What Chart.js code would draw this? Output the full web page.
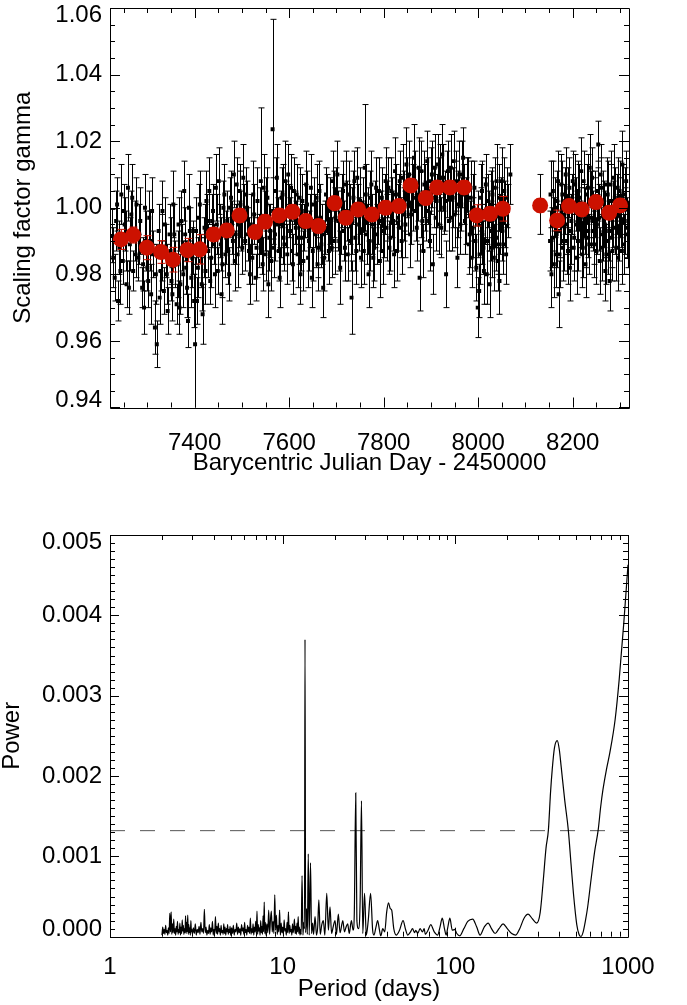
<!DOCTYPE html>
<html>
<head>
<meta charset="utf-8">
<script src="https://cdn.jsdelivr.net/npm/chart.js@4.4.1/dist/chart.umd.min.js"></script>
<style>
  body { margin: 0; background: #fff; width: 687px; height: 1005px; overflow: hidden; position: relative; }
  canvas { position: absolute; left: 0; }
  #gammaChart { top: 0; }
  #powerChart { top: 500px; }
</style>
</head>
<body>
<canvas id="gammaChart" width="687" height="500"></canvas>
<canvas id="powerChart" width="687" height="505"></canvas>
<script>
// individual measurements (BJD - 2450000, scaling factor, 1-sigma error)
const bjd = [
  7226, 7231, 7234, 7238, 7241, 7245, 7248, 7252, 7256, 7259,
  7263, 7266, 7270, 7273, 7277, 7281, 7285, 7289, 7293, 7297,
  7300, 7304, 7308, 7312, 7316, 7320, 7324, 7328, 7332, 7335,
  7339, 7343, 7347, 7351, 7355, 7359, 7362, 7366, 7370, 7374,
  7378, 7382, 7386, 7390, 7393, 7397, 7401, 7405, 7409, 7413,
  7417, 7421, 7425, 7429, 7433, 7437, 7441, 7445, 7449, 7453,
  7457, 7461, 7465, 7469, 7473, 7477, 7481, 7485, 7489, 7493,
  7497, 7501, 7505, 7509, 7513, 7517, 7522, 7526, 7529, 7533,
  7536, 7540, 7544, 7548, 7552, 7556, 7560, 7565, 7568, 7572,
  7576, 7580, 7584, 7588, 7592, 7596, 7600, 7604, 7608, 7612,
  7616, 7620, 7624, 7628, 7632, 7636, 7640, 7644, 7648, 7652,
  7656, 7660, 7664, 7668, 7672, 7676, 7680, 7684, 7688, 7692,
  7696, 7700, 7704, 7708, 7712, 7716, 7720, 7724, 7728, 7732,
  7736, 7740, 7744, 7748, 7752, 7756, 7760, 7764, 7768, 7772,
  7776, 7780, 7784, 7788, 7792, 7796, 7800, 7804, 7808, 7812,
  7816, 7820, 7824, 7828, 7832, 7836, 7840, 7844, 7848, 7852,
  7856, 7860, 7864, 7868, 7872, 7876, 7880, 7884, 7888, 7892,
  7896, 7900, 7904, 7908, 7912, 7916, 7920, 7924, 7928, 7932,
  7936, 7940, 7944, 7948, 7952, 7956, 7960, 7964, 7968, 7972,
  7976, 7980, 7984, 7988, 7992, 7996, 7999, 8002, 8005, 8008,
  8011, 8014, 8018, 8021, 8024, 8027, 8030, 8033, 8036, 8039,
  8042, 8045, 8048, 8051, 8055, 8059, 8063, 8068, 8131, 8152,
  8155, 8158, 8161, 8164, 8167, 8170, 8173, 8176, 8179, 8182,
  8185, 8188, 8191, 8194, 8197, 8200, 8203, 8206, 8209, 8212,
  8215, 8218, 8221, 8224, 8227, 8230, 8233, 8236, 8239, 8242,
  8245, 8248, 8251, 8254, 8257, 8260, 8263, 8266, 8269, 8272,
  8275, 8278, 8281, 8284, 8287, 8290, 8293, 8296, 8299, 8302,
  8305, 8308, 8311, 8314,
  7228, 7236, 7243, 7250, 7254, 7261, 7268, 7275, 7283, 7291,
  7295, 7302, 7306, 7310, 7318, 7326, 7330, 7337, 7341, 7349,
  7353, 7357, 7364, 7368, 7372, 7376, 7380, 7384, 7388, 7395,
  7399, 7403, 7407, 7411, 7415, 7419, 7423, 7427, 7431, 7435,
  7439, 7443, 7447, 7451, 7455, 7459, 7463, 7467, 7471, 7475,
  7479, 7483, 7487, 7491, 7495, 7499, 7503, 7507, 7511, 7515,
  7519, 7524, 7531, 7538, 7542, 7546, 7550, 7554, 7558, 7562,
  7566, 7570, 7574, 7578, 7582, 7586, 7590, 7594, 7598, 7602,
  7606, 7610, 7614, 7618, 7622, 7626, 7630, 7634, 7638, 7642,
  7646, 7650, 7654, 7658, 7662, 7666, 7670, 7674, 7678, 7682,
  7686, 7690, 7694, 7698, 7702, 7706, 7710, 7714, 7718, 7722,
  7726, 7730, 7734, 7738, 7742, 7746, 7750, 7754, 7758, 7762,
  7766, 7770, 7774, 7778, 7782, 7786, 7790, 7794, 7798, 7802,
  7806, 7810, 7814, 7818, 7822, 7826, 7830, 7834, 7838, 7842,
  7846, 7850, 7854, 7858, 7862, 7866, 7870, 7874, 7878, 7882,
  7886, 7890, 7894, 7898, 7902, 7906, 7910, 7914, 7918, 7922,
  7926, 7930, 7934, 7938, 7942, 7946, 7950, 7954, 7958, 7962,
  7966, 7970, 7974, 7978, 7982, 7986, 7990, 7994, 8000, 8003,
  8006, 8009, 8012, 8016, 8019, 8023, 8026, 8029, 8032, 8035,
  8038, 8041, 8044, 8047, 8050, 8053, 8057, 8061, 8153, 8157,
  8160, 8163, 8166, 8169, 8172, 8175, 8178, 8181, 8184, 8187,
  8190, 8193, 8196, 8199, 8202, 8205, 8208, 8211, 8214, 8217,
  8220, 8223, 8226, 8229, 8232, 8235, 8238, 8241, 8244, 8247,
  8250, 8253, 8256, 8259, 8262, 8265, 8268, 8271, 8274, 8277,
  8280, 8283, 8286, 8289, 8292, 8295, 8298, 8301, 8304, 8307,
  8310, 8313, 8316
];
const gamma = [
  0.9915, 0.9790, 0.9960, 0.9720, 0.9880, 1.0040, 0.9840, 0.9950, 0.9770, 1.0060,
  0.9890, 0.9980, 0.9810, 0.9930, 1.0010, 0.9850, 0.9960, 0.9760, 0.9700, 0.9900,
  0.9820, 0.9970, 0.9740, 0.9860, 0.9640, 0.9590, 0.9930, 0.9810, 0.9990, 0.9750,
  0.9870, 0.9690, 0.9920, 0.9780, 1.0010, 0.9830, 0.9710, 0.9950, 0.9770, 0.9880,
  1.0050, 0.9820, 0.9660, 0.9930, 0.9790, 0.9880, 0.9590, 0.9720, 0.9970, 0.9840,
  0.9680, 0.9940, 1.0020, 0.9870, 0.9780, 0.9960, 0.9890, 1.0060, 0.9810, 0.9930,
  0.9740, 1.0000, 0.9860, 0.9960, 0.9800, 1.0030, 0.9900, 0.9840, 1.0070, 0.9950,
  1.0010, 0.9880, 0.9980, 1.0040, 0.9920, 0.9800, 0.9850, 0.9980, 0.9790, 1.0020,
  0.9900, 1.0080, 0.9830, 0.9960, 1.0010, 0.9770, 0.9930, 1.0236, 0.9880, 1.0050,
  0.9950, 0.9790, 1.0030, 0.9910, 1.0080, 0.9860, 0.9990, 1.0060, 0.9830, 0.9970,
  1.0040, 0.9910, 0.9800, 1.0020, 0.9940, 1.0070, 0.9850, 0.9960, 0.9790, 1.0010,
  0.9920, 0.9830, 1.0050, 0.9890, 0.9760, 0.9940, 1.0010, 0.9870, 0.9950, 1.0080,
  0.9900, 1.0040, 0.9960, 0.9820, 1.0020, 0.9930, 1.0070, 0.9860, 0.9980, 0.9730,
  1.0030, 0.9910, 1.0090, 0.9950, 0.9850, 1.0010, 1.0120, 0.9920, 0.9800, 1.0030,
  0.9950, 0.9880, 1.0060, 0.9970, 0.9840, 1.0030, 0.9930, 1.0080, 0.9990, 0.9880,
  1.0050, 0.9960, 1.0110, 0.9870, 1.0020, 0.9940, 1.0090, 0.9980, 1.0130, 1.0010,
  0.9920, 1.0070, 1.0150, 0.9990, 1.0040, 0.9790, 1.0110, 0.9870, 1.0030, 1.0140,
  0.9960, 1.0080, 0.9830, 1.0120, 1.0020, 0.9950, 1.0090, 1.0160, 1.0000, 0.9800,
  1.0110, 1.0040, 0.9970, 1.0140, 1.0060, 0.9850, 1.0100, 1.0010, 1.0150, 0.9960,
  1.0070, 0.9890, 1.0030, 0.9940, 1.0060, 0.9820, 0.9700, 0.9750, 0.9960, 1.0050,
  0.9880, 0.9990, 0.9800, 1.0020, 0.9770, 0.9930, 1.0040, 0.9850, 0.9970, 1.0080,
  0.9890, 0.9780, 1.0010, 0.9930, 1.0050, 0.9860, 0.9990, 1.0100, 1.0010, 0.9900,
  0.9800, 1.0050, 0.9950, 0.9860, 1.0020, 0.9740, 0.9930, 1.0070, 0.9880, 0.9980,
  1.0100, 0.9900, 1.0030, 0.9820, 0.9960, 1.0080, 0.9910, 1.0010, 0.9850, 1.0050,
  0.9940, 1.0110, 0.9880, 0.9990, 0.9830, 1.0040, 0.9930, 1.0120, 0.9970, 0.9960,
  0.9890, 1.0030, 0.9950, 1.0190, 0.9840, 1.0060, 0.9920, 0.9980, 0.9810, 1.0070,
  0.9900, 0.9780, 1.0020, 0.9870, 1.0090, 0.9940, 1.0010, 0.9850, 1.0050, 0.9960,
  1.0130, 0.9890, 1.0020, 0.9940,
  0.9850, 1.0010, 0.9810, 0.9990, 0.9900, 0.9760, 1.0030, 0.9860, 0.9920, 0.9830,
  1.0000, 0.9780, 0.9900, 0.9990, 0.9800, 0.9730, 0.9880, 0.9950, 0.9800, 0.9870,
  0.9740, 0.9920, 0.9830, 0.9700, 0.9960, 0.9800, 0.9920, 0.9760, 1.0000, 0.9850,
  0.9720, 0.9930, 0.9820, 1.0010, 0.9770, 0.9880, 0.9810, 0.9960, 1.0050, 0.9850,
  0.9990, 0.9800, 0.9950, 1.0080, 0.9890, 0.9830, 1.0040, 0.9910, 0.9870, 1.0000,
  0.9940, 1.0100, 0.9920, 0.9860, 1.0050, 0.9960, 1.0090, 0.9900, 1.0000, 0.9870,
  0.9950, 1.0040, 0.9880, 0.9960, 0.9890, 1.0060, 0.9860, 1.0030, 0.9910, 0.9840,
  0.9990, 0.9920, 1.0090, 0.9870, 0.9950, 1.0040, 0.9890, 0.9980, 1.0100, 0.9930,
  0.9870, 1.0050, 0.9940, 0.9860, 1.0030, 0.9910, 0.9840, 0.9990, 1.0010, 0.9900,
  1.0060, 0.9870, 0.9960, 1.0030, 0.9880, 0.9970, 0.9920, 0.9850, 1.0040, 0.9930,
  0.9990, 0.9880, 1.0010, 0.9970, 1.0100, 0.9900, 0.9960, 1.0050, 0.9880, 0.9990,
  1.0040, 0.9900, 0.9960, 1.0080, 0.9870, 0.9980, 1.0020, 0.9930, 0.9870, 1.0040,
  0.9960, 0.9900, 1.0070, 0.9850, 0.9980, 0.9920, 1.0050, 0.9960, 0.9870, 1.0010,
  0.9940, 1.0060, 0.9910, 1.0000, 0.9860, 1.0040, 0.9970, 1.0080, 0.9900, 1.0020,
  0.9950, 1.0060, 1.0100, 0.9980, 1.0030, 1.0080, 0.9940, 1.0120, 1.0010, 0.9960,
  1.0070, 0.9990, 1.0050, 0.9900, 1.0100, 1.0030, 0.9970, 1.0130, 1.0050, 0.9940,
  1.0090, 1.0020, 1.0070, 0.9960, 1.0120, 1.0030, 0.9980, 1.0080, 1.0010, 0.9950,
  1.0100, 1.0040, 0.9990, 1.0060, 0.9920, 0.9850, 1.0000, 0.9900, 0.9950, 0.9860,
  1.0030, 0.9920, 0.9810, 1.0070, 0.9900, 0.9960, 1.0010, 0.9880, 0.9980, 1.0060,
  0.9910, 0.9840, 1.0030, 0.9950, 1.0080, 0.9890, 0.9980, 1.0030, 1.0040, 0.9910,
  0.9830, 1.0000, 0.9920, 1.0080, 0.9860, 0.9980, 1.0040, 0.9900, 1.0020, 0.9950,
  0.9870, 1.0060, 0.9930, 1.0010, 0.9880, 1.0070, 0.9950, 0.9900, 1.0030, 0.9970,
  0.9860, 1.0080, 0.9960, 0.9910, 1.0060, 0.9890, 1.0010, 1.0090, 0.9930, 1.0000,
  0.9870, 1.0050, 0.9970, 1.0100, 0.9880, 1.0020, 0.9950, 0.9860, 1.0040, 0.9930,
  1.0070, 0.9910, 0.9980, 1.0030, 0.9880, 1.0060, 0.9940, 1.0000, 0.9870, 1.0040,
  0.9960, 1.0080, 0.9920
];
const gammaErr = [
  0.008, 0.007, 0.009, 0.006, 0.008, 0.009, 0.007, 0.008, 0.007, 0.010,
  0.008, 0.007, 0.006, 0.009, 0.008, 0.007, 0.010, 0.006, 0.008, 0.009,
  0.007, 0.008, 0.009, 0.007, 0.008, 0.007, 0.008, 0.006, 0.009, 0.007,
  0.008, 0.007, 0.009, 0.006, 0.010, 0.007, 0.006, 0.008, 0.009, 0.007,
  0.009, 0.008, 0.008, 0.007, 0.009, 0.008, 0.026, 0.007, 0.010, 0.008,
  0.009, 0.007, 0.009, 0.008, 0.007, 0.008, 0.006, 0.010, 0.007, 0.008,
  0.009, 0.008, 0.007, 0.009, 0.008, 0.008, 0.007, 0.009, 0.008, 0.007,
  0.010, 0.008, 0.009, 0.008, 0.008, 0.009, 0.008, 0.009, 0.007, 0.010,
  0.008, 0.022, 0.008, 0.009, 0.008, 0.010, 0.008, 0.033, 0.009, 0.010,
  0.008, 0.009, 0.009, 0.008, 0.012, 0.009, 0.008, 0.010, 0.009, 0.008,
  0.009, 0.008, 0.009, 0.008, 0.007, 0.010, 0.009, 0.008, 0.009, 0.008,
  0.010, 0.008, 0.009, 0.007, 0.009, 0.008, 0.009, 0.010, 0.008, 0.009,
  0.010, 0.008, 0.009, 0.011, 0.008, 0.009, 0.010, 0.008, 0.009, 0.011,
  0.008, 0.010, 0.009, 0.008, 0.009, 0.008, 0.019, 0.009, 0.010, 0.008,
  0.009, 0.010, 0.009, 0.008, 0.011, 0.009, 0.008, 0.010, 0.009, 0.008,
  0.010, 0.009, 0.010, 0.009, 0.008, 0.009, 0.010, 0.008, 0.011, 0.009,
  0.010, 0.008, 0.010, 0.009, 0.008, 0.010, 0.009, 0.008, 0.010, 0.009,
  0.008, 0.010, 0.009, 0.010, 0.008, 0.009, 0.010, 0.009, 0.008, 0.010,
  0.009, 0.008, 0.010, 0.009, 0.008, 0.009, 0.010, 0.008, 0.009, 0.010,
  0.008, 0.009, 0.011, 0.009, 0.008, 0.010, 0.009, 0.008, 0.010, 0.009,
  0.008, 0.010, 0.009, 0.008, 0.010, 0.009, 0.008, 0.010, 0.009, 0.011,
  0.009, 0.010, 0.008, 0.009, 0.010, 0.009, 0.008, 0.009, 0.009, 0.009,
  0.010, 0.009, 0.008, 0.010, 0.009, 0.010, 0.008, 0.009, 0.010, 0.009,
  0.008, 0.010, 0.009, 0.010, 0.008, 0.009, 0.010, 0.008, 0.011, 0.009,
  0.008, 0.010, 0.009, 0.008, 0.010, 0.009, 0.008, 0.010, 0.009, 0.009,
  0.010, 0.008, 0.009, 0.007, 0.010, 0.009, 0.008, 0.010, 0.009, 0.008,
  0.010, 0.009, 0.011, 0.009, 0.010, 0.008, 0.009, 0.010, 0.009, 0.008,
  0.010, 0.009, 0.010, 0.009,
  0.009, 0.008, 0.010, 0.008, 0.009, 0.008, 0.010, 0.007, 0.009, 0.008,
  0.010, 0.008, 0.009, 0.010, 0.009, 0.008, 0.010, 0.008, 0.009, 0.010,
  0.008, 0.009, 0.010, 0.008, 0.009, 0.010, 0.008, 0.009, 0.010, 0.009,
  0.008, 0.010, 0.009, 0.010, 0.008, 0.009, 0.010, 0.008, 0.010, 0.009,
  0.008, 0.010, 0.009, 0.010, 0.008, 0.010, 0.009, 0.008, 0.010, 0.009,
  0.008, 0.010, 0.009, 0.010, 0.008, 0.009, 0.010, 0.009, 0.008, 0.010,
  0.009, 0.010, 0.009, 0.010, 0.009, 0.010, 0.008, 0.009, 0.010, 0.009,
  0.010, 0.008, 0.010, 0.009, 0.010, 0.009, 0.008, 0.010, 0.009, 0.010,
  0.009, 0.010, 0.008, 0.010, 0.009, 0.010, 0.009, 0.008, 0.010, 0.009,
  0.010, 0.009, 0.008, 0.010, 0.009, 0.010, 0.009, 0.010, 0.008, 0.009,
  0.010, 0.009, 0.010, 0.009, 0.010, 0.009, 0.010, 0.009, 0.010, 0.009,
  0.010, 0.009, 0.010, 0.009, 0.010, 0.009, 0.010, 0.009, 0.010, 0.009,
  0.010, 0.009, 0.010, 0.009, 0.010, 0.009, 0.010, 0.009, 0.010, 0.009,
  0.010, 0.009, 0.010, 0.009, 0.010, 0.009, 0.010, 0.009, 0.010, 0.009,
  0.010, 0.009, 0.010, 0.009, 0.010, 0.009, 0.010, 0.009, 0.010, 0.009,
  0.010, 0.009, 0.010, 0.009, 0.010, 0.009, 0.010, 0.009, 0.010, 0.009,
  0.010, 0.009, 0.010, 0.009, 0.010, 0.009, 0.010, 0.009, 0.010, 0.009,
  0.010, 0.009, 0.010, 0.009, 0.010, 0.009, 0.010, 0.009, 0.010, 0.009,
  0.010, 0.009, 0.010, 0.009, 0.010, 0.009, 0.010, 0.009, 0.010, 0.009,
  0.010, 0.009, 0.010, 0.009, 0.010, 0.009, 0.010, 0.009, 0.010, 0.009,
  0.010, 0.009, 0.010, 0.009, 0.010, 0.009, 0.010, 0.009, 0.010, 0.009,
  0.010, 0.009, 0.010, 0.009, 0.010, 0.009, 0.010, 0.009, 0.010, 0.009,
  0.010, 0.009, 0.010, 0.009, 0.010, 0.009, 0.010, 0.009, 0.010, 0.009,
  0.010, 0.009, 0.010, 0.009, 0.010, 0.009, 0.010, 0.009, 0.010, 0.009,
  0.010, 0.009, 0.010, 0.009, 0.010, 0.009, 0.010, 0.009, 0.010, 0.009,
  0.010, 0.009, 0.010
];

// binned averages (red)
const binBjd = [
  7244, 7270, 7299, 7329, 7354, 7385, 7411, 7440, 7468, 7495,
  7528, 7549, 7579, 7607, 7635, 7662, 7696, 7720, 7746, 7775,
  7804, 7832, 7857, 7889, 7913, 7940, 7970, 7997, 8025, 8052,
  8131, 8167, 8192, 8219, 8249, 8277, 8300
];
const binGamma = [
  0.9905, 0.9918, 0.9880, 0.9867, 0.9844, 0.9873, 0.9875, 0.9920, 0.9932, 0.9977,
  0.9927, 0.9958, 0.9977, 0.9988, 0.9960, 0.9945, 1.0014, 0.9970, 0.9995, 0.9980,
  1.0000, 1.0005, 1.0067, 1.0029, 1.0061, 1.0061, 1.0061, 0.9977, 0.9982, 0.9997,
  1.0007, 0.9962, 1.0005, 0.9995, 1.0017, 0.9985, 1.0007
];
const binErr = [
  0.0030, 0.0024, 0.0036, 0.0034, 0.0037, 0.0035, 0.0044, 0.0020, 0.0020, 0.0020,
  0.0020, 0.0020, 0.0020, 0.0020, 0.0020, 0.0020, 0.0020, 0.0020, 0.0020, 0.0020,
  0.0020, 0.0020, 0.0020, 0.0020, 0.0020, 0.0020, 0.0020, 0.0032, 0.0020, 0.0037,
  0.0020, 0.0031, 0.0020, 0.0020, 0.0020, 0.0020, 0.0020
];

// periodogram of gamma
const period = [
  2.00, 2.02, 2.04, 2.06, 2.08, 2.10, 2.12, 2.14, 2.16, 2.18,
  2.20, 2.22, 2.24, 2.26, 2.28, 2.30, 2.32, 2.34, 2.36, 2.38,
  2.40, 2.42, 2.44, 2.46, 2.48, 2.50, 2.52, 2.54, 2.56, 2.58,
  2.60, 2.62, 2.64, 2.66, 2.68, 2.70, 2.72, 2.74, 2.76, 2.78,
  2.80, 2.82, 2.84, 2.86, 2.88, 2.90, 2.92, 2.94, 2.96, 2.98,
  3.00, 3.04, 3.08, 3.12, 3.16, 3.20, 3.24, 3.28, 3.32, 3.36,
  3.40, 3.44, 3.48, 3.52, 3.56, 3.60, 3.64, 3.68, 3.72, 3.76,
  3.80, 3.84, 3.88, 3.92, 3.96, 4.00, 4.04, 4.08, 4.12, 4.16,
  4.20, 4.24, 4.28, 4.32, 4.36, 4.40, 4.44, 4.48, 4.52, 4.56,
  4.60, 4.64, 4.68, 4.72, 4.76, 4.80, 4.84, 4.88, 4.92, 4.96,
  5.00, 5.06, 5.12, 5.18, 5.24, 5.30, 5.36, 5.42, 5.48, 5.54,
  5.60, 5.66, 5.72, 5.78, 5.84, 5.90, 5.96, 6.02, 6.08, 6.14,
  6.20, 6.26, 6.32, 6.38, 6.44, 6.50, 6.56, 6.62, 6.68, 6.74,
  6.80, 6.86, 6.92, 6.98, 7.04, 7.10, 7.16, 7.22, 7.28, 7.34,
  7.40, 7.46, 7.52, 7.58, 7.64, 7.70, 7.76, 7.82, 7.88, 7.94,
  8.00, 8.10, 8.20, 8.30, 8.40, 8.50, 8.60, 8.70, 8.80, 8.90,
  9.00, 9.10, 9.20, 9.30, 9.40, 9.50, 9.60, 9.70, 9.80, 9.90,
  10.0, 10.1, 10.2, 10.3, 10.4, 10.5, 10.6, 10.7, 10.8, 10.9,
  11.0, 11.1, 11.2, 11.3, 11.4, 11.5, 11.6, 11.7, 11.8, 11.9,
  12.0, 12.1, 12.2, 12.3, 12.4, 12.5, 12.6, 12.7, 12.8, 12.95,
  13.10, 13.25, 13.38, 13.47, 13.58, 13.75, 13.90, 14.07, 14.25, 14.50,
  14.70, 14.90, 15.10, 15.40, 15.70, 15.95, 16.20, 16.50, 16.85, 17.20,
  17.55, 18.00, 18.40, 18.80, 19.20, 19.60, 20.10, 20.50, 21.00, 21.50,
  22.30, 22.80, 23.30, 23.80, 24.30, 25.00, 25.60, 26.00, 26.50, 26.90,
  27.50, 28.10, 28.60, 29.10, 29.80, 30.50, 31.30, 32.30, 33.20, 33.80,
  34.70, 35.50, 36.30, 37.00, 38.00, 39.00, 40.00, 41.00, 42.00, 42.80,
  44.00, 45.50, 47.50, 49.80, 51.50, 53.00, 55.00, 56.50, 58.00, 59.00,
  60.50, 62.50, 64.50, 66.00, 67.00, 69.50, 72.00, 75.50, 79.00, 81.50,
  84.00, 86.50, 88.50, 90.50, 93.00, 96.00, 99.30, 102.0, 106.0, 112.0,
  118.0, 126.0, 133.0, 139.0, 147.0, 155.0, 162.0, 170.0, 179.0, 189.0,
  200.0, 212.0, 224.0, 236.0, 250.0, 264.0, 280.0, 296.0, 310.0, 323.0,
  335.0, 346.0, 356.0, 364.0, 375.0, 389.0, 400.0, 410.0, 430.0, 451.0,
  468.0, 483.0, 505.0, 520.0, 534.0, 550.0, 567.0, 584.0, 610.0, 640.0,
  672.0, 695.0, 716.0, 750.0, 785.0, 842.0, 889.0, 945.0, 1000.0
];
const power = [
  0.00002, 0.00012, 0.00004, 0.00009, 0.00003, 0.00014, 0.00005, 0.00008, 0.00002, 0.00011,
  0.00004, 0.00029, 0.00006, 0.00031, 0.00003, 0.00016, 0.00005, 0.00022, 0.00004, 0.00010,
  0.00002, 0.00013, 0.00006, 0.00019, 0.00003, 0.00009, 0.00005, 0.00017, 0.00002, 0.00012,
  0.00004, 0.00021, 0.00007, 0.00014, 0.00003, 0.00010, 0.00005, 0.00026, 0.00004, 0.00018,
  0.00006, 0.00027, 0.00003, 0.00015, 0.00005, 0.00011, 0.00002, 0.00020, 0.00006, 0.00009,
  0.00003, 0.00011, 0.00004, 0.00016, 0.00002, 0.00009, 0.00005, 0.00013, 0.00003, 0.00018,
  0.00006, 0.00010, 0.00004, 0.00034, 0.00005, 0.00012, 0.00002, 0.00008, 0.00004, 0.00015,
  0.00003, 0.00011, 0.00006, 0.00019, 0.00002, 0.00009, 0.00005, 0.00025, 0.00004, 0.00013,
  0.00003, 0.00017, 0.00006, 0.00010, 0.00002, 0.00014, 0.00005, 0.00008, 0.00003, 0.00016,
  0.00004, 0.00012, 0.00002, 0.00010, 0.00006, 0.00015, 0.00003, 0.00009, 0.00005, 0.00013,
  0.00002, 0.00011, 0.00004, 0.00014, 0.00002, 0.00009, 0.00006, 0.00017, 0.00003, 0.00012,
  0.00005, 0.00010, 0.00002, 0.00015, 0.00007, 0.00011, 0.00003, 0.00018, 0.00005, 0.00009,
  0.00002, 0.00014, 0.00006, 0.00012, 0.00004, 0.00023, 0.00003, 0.00010, 0.00005, 0.00016,
  0.00002, 0.00012, 0.00006, 0.00019, 0.00004, 0.00032, 0.00003, 0.00015, 0.00007, 0.00011,
  0.00002, 0.00020, 0.00005, 0.00013, 0.00003, 0.00026, 0.00006, 0.00043, 0.00004, 0.00018,
  0.00002, 0.00016, 0.00005, 0.00033, 0.00003, 0.00021, 0.00032, 0.00006, 0.00019, 0.00004,
  0.00052, 0.00008, 0.00027, 0.00003, 0.00014, 0.00006, 0.00033, 0.00002, 0.00017, 0.00005,
  0.00012, 0.00003, 0.00021, 0.00007, 0.00010, 0.00002, 0.00018, 0.00005, 0.00031, 0.00004,
  0.00014, 0.00006, 0.00009, 0.00002, 0.00016, 0.00005, 0.00011, 0.00022, 0.00004, 0.00013,
  0.00003, 0.00017, 0.00006, 0.00025, 0.00004, 0.00012, 0.00002, 0.00009, 0.00003, 0.00076,
  0.00002, 0.00018, 0.00010, 0.00370, 0.00005, 0.00035, 0.00003, 0.00103, 0.00002, 0.00092,
  0.00004, 0.00017, 0.00003, 0.00025, 0.00002, 0.00012, 0.00046, 0.00003, 0.00015, 0.00020,
  0.00002, 0.00054, 0.00008, 0.00037, 0.00004, 0.00012, 0.00020, 0.00003, 0.00028, 0.00005,
  0.00020, 0.00006, 0.00012, 0.00016, 0.00004, 0.00020, 0.00008, 0.00030, 0.00179, 0.00020,
  0.00010, 0.00045, 0.00169, 0.00004, 0.00054, 0.00002, 0.00020, 0.00054, 0.00008, 0.00002,
  0.00012, 0.00020, 0.00009, 0.00001, 0.00010, 0.00006, 0.00030, 0.00042, 0.00035, 0.00033,
  0.00010, 0.00002, 0.00008, 0.00020, 0.00009, 0.00002, 0.00006, 0.00010, 0.00005, 0.00008,
  0.00004, 0.00010, 0.00006, 0.00010, 0.00003, 0.00008, 0.00015, 0.00006, 0.00002, 0.00012,
  0.00023, 0.00010, 0.00002, 0.00012, 0.00023, 0.00008, 0.00009, 0.00004, 0.00001, 0.00010,
  0.00019, 0.00022, 0.00012, 0.00002, 0.00012, 0.00017, 0.00010, 0.00004, 0.00010, 0.00016,
  0.00010, 0.00004, 0.00002, 0.00010, 0.00023, 0.00028, 0.00022, 0.00017, 0.00030, 0.00070,
  0.00110, 0.00133, 0.00180, 0.00208, 0.00235, 0.00244, 0.00233, 0.00212, 0.00170, 0.00133,
  0.00090, 0.00054, 0.00015, 0.00003, 0.00000, 0.00006, 0.00020, 0.00037, 0.00070, 0.00105,
  0.00133, 0.00162, 0.00183, 0.00208, 0.00229, 0.00270, 0.00320, 0.00390, 0.00463
];

// false-alarm level (dashed)
const fapPeriod = [1, 1000];
const fapPower = [0.00132, 0.00132];

Chart.defaults.font.family = "'Liberation Sans', Arial, Helvetica, sans-serif";
Chart.defaults.font.size = 24;
Chart.defaults.color = '#000';

// IDL keeps the end labels of the y axis inside the box: push them in by half a line
function yLabel(digits) {
  return (v, i, ticks) => {
    const s = v.toFixed(digits);
    if (i === ticks.length - 1) return ['', s];
    if (i === 0) return [s, ''];
    return s;
  };
}

// IDL-like box with inward ticks on all four sides
const frame = {
  id: 'frame',
  afterDatasetsDraw(chart, args, opts) {
    const { ctx, chartArea: a, scales } = chart;
    const px = v => Math.round(v) + 0.5;
    ctx.save();
    ctx.strokeStyle = '#000';
    ctx.lineWidth = 1;
    ctx.beginPath();
    ctx.rect(px(a.left), px(a.top), Math.round(a.right) - Math.round(a.left), Math.round(a.bottom) - Math.round(a.top));
    const xs = scales.x, ys = scales.y;
    let xt = [];
    if (opts.xLog) {
      for (let k = 0; k < 3; k++) {
        for (let d = 1; d <= 9; d++) xt.push({ v: d * Math.pow(10, k), major: d === 1 });
      }
      xt.push({ v: 1000, major: true });
    } else {
      const r = Math.round(opts.xMajor / opts.xMinor);
      for (let i = Math.ceil(xs.min / opts.xMinor - 1e-9); i * opts.xMinor <= xs.max + 1e-9; i++) {
        xt.push({ v: i * opts.xMinor, major: i % r === 0 });
      }
    }
    xt.forEach(t => {
      const x = px(xs.getPixelForValue(t.v));
      const len = t.major ? opts.majorLen : opts.minorLen;
      ctx.moveTo(x, a.bottom); ctx.lineTo(x, a.bottom - len);
      ctx.moveTo(x, a.top); ctx.lineTo(x, a.top + len);
    });
    const ry = Math.round(opts.yMajor / opts.yMinor);
    for (let i = Math.ceil(ys.min / opts.yMinor - 1e-9); i * opts.yMinor <= ys.max + 1e-12; i++) {
      const y = px(ys.getPixelForValue(i * opts.yMinor));
      const len = i % ry === 0 ? opts.majorLen : opts.minorLen;
      ctx.moveTo(a.left, y); ctx.lineTo(a.left + len, y);
      ctx.moveTo(a.right, y); ctx.lineTo(a.right - len, y);
    }
    ctx.stroke();
    ctx.restore();
  }
};

// vertical error bars with caps, drawn under each dataset's points
const errorBars = {
  id: 'errorBars',
  beforeDatasetDraw(chart, args) {
    const ds = chart.data.datasets[args.index];
    if (!ds.errors) return;
    const { ctx, chartArea: a } = chart;
    const ys = chart.scales.y;
    ctx.save();
    ctx.beginPath();
    ctx.rect(a.left, a.top, a.right - a.left, a.bottom - a.top);
    ctx.clip();
    ctx.strokeStyle = ds.errorColor;
    ctx.lineWidth = 1;
    ctx.beginPath();
    args.meta.data.forEach((pt, i) => {
      const v = ds.data[i].y, e = ds.errors[i];
      const y0 = ys.getPixelForValue(v - e), y1 = ys.getPixelForValue(v + e);
      const x = Math.round(pt.x) + 0.5, c = ds.capHalf;
      ctx.moveTo(x, y0); ctx.lineTo(x, y1);
      ctx.moveTo(x - c, y0); ctx.lineTo(x + c, y0);
      ctx.moveTo(x - c, y1); ctx.lineTo(x + c, y1);
    });
    ctx.stroke();
    ctx.restore();
  }
};

new Chart(document.getElementById('gammaChart'), {
  type: 'scatter',
  data: {
    datasets: [
      {
        label: 'binned',
        order: 0,
        data: binBjd.map((x, i) => ({ x: x, y: binGamma[i] })),
        errors: binErr,
        errorColor: '#cc1100',
        capHalf: 4,
        pointStyle: 'circle',
        pointRadius: 8,
        backgroundColor: '#cc1100',
        borderWidth: 0
      },
      {
        label: 'gamma',
        order: 1,
        data: bjd.map((x, i) => ({ x: x, y: gamma[i] })),
        errors: gammaErr,
        errorColor: '#000',
        capHalf: 3,
        pointStyle: 'rect',
        pointRadius: 2.8,
        backgroundColor: '#000',
        borderWidth: 0
      }
    ]
  },
  options: {
    responsive: false,
    animation: false,
    layout: { padding: { left: 0, right: 58, top: 6, bottom: 0 } },
    plugins: {
      legend: { display: false },
      tooltip: { enabled: false },
      frame: { xMajor: 200, xMinor: 50, yMajor: 0.02, yMinor: 0.005, majorLen: 10, minorLen: 5 }
    },
    scales: {
      x: {
        type: 'linear',
        min: 7221,
        max: 8319,
        grid: { display: false, drawTicks: false },
        border: { display: false },
        ticks: { stepSize: 200, includeBounds: false, autoSkip: false, maxRotation: 0, padding: 21,
                 callback: v => String(v) },
        title: { display: true, text: 'Barycentric Julian Day - 2450000', padding: { top: 0, bottom: 22 } },
        afterFit: s => { s.height = 92.5; s.paddingLeft = 0; s.paddingRight = 0; }
      },
      y: {
        min: 0.94,
        max: 1.06,
        grid: { display: false, drawTicks: false },
        border: { display: false },
        ticks: { stepSize: 0.02, padding: 8, font: { lineHeight: 0.6 }, callback: yLabel(2) },
        title: { display: true, text: 'Scaling factor gamma', font: { lineHeight: 1 }, padding: { top: 11, bottom: 0 } },
        afterFit: s => { s.width = 110; s.paddingTop = 0; s.paddingBottom = 0; }
      }
    }
  },
  plugins: [errorBars, frame]
});

new Chart(document.getElementById('powerChart'), {
  type: 'scatter',
  data: {
    datasets: [
      {
        label: 'power',
        data: period.map((x, i) => ({ x: x, y: power[i] })),
        showLine: true,
        borderColor: '#000',
        borderWidth: 1.2,
        pointRadius: 0,
        cubicInterpolationMode: 'monotone'
      },
      {
        label: 'FAP',
        data: fapPeriod.map((x, i) => ({ x: x, y: fapPower[i] })),
        showLine: true,
        borderColor: '#555',
        borderWidth: 1,
        borderDash: [15, 15],
        pointRadius: 0
      }
    ]
  },
  options: {
    responsive: false,
    animation: false,
    layout: { padding: { left: 0, right: 59, top: 35, bottom: 0 } },
    plugins: {
      legend: { display: false },
      tooltip: { enabled: false },
      frame: { xLog: true, yMajor: 0.001, yMinor: 0.0001, majorLen: 9, minorLen: 5 }
    },
    scales: {
      x: {
        type: 'logarithmic',
        min: 1,
        max: 1000,
        grid: { display: false, drawTicks: false },
        border: { display: false },
        ticks: {
          autoSkip: false, maxRotation: 0, padding: 16,
          callback: v => {
            const l = Math.log10(v);
            return Math.abs(l - Math.round(l)) < 1e-9 ? String(Math.round(v)) : '';
          }
        },
        title: { display: true, text: 'Period (days)', padding: { top: 0, bottom: 1 } },
        afterFit: s => { s.height = 68.3; s.paddingLeft = 0; s.paddingRight = 0; }
      },
      y: {
        min: 0,
        max: 0.005,
        grid: { display: false, drawTicks: false },
        border: { display: false },
        ticks: { stepSize: 0.001, padding: 8, font: { lineHeight: 0.6 }, callback: yLabel(3) },
        title: { display: true, text: 'Power', font: { lineHeight: 1 }, padding: { top: 0, bottom: 0 } },
        afterFit: s => { s.width = 110; s.paddingTop = 0; s.paddingBottom = 0; }
      }
    }
  },
  plugins: [errorBars, frame]
});
</script>
</body>
</html>
